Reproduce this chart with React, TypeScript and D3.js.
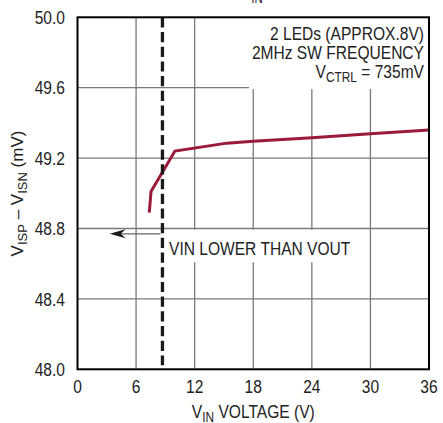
import { useEffect, useRef } from 'react'
import * as d3 from 'd3'

const W = 443
const H = 423
const FONT = '"Liberation Sans", Arial, sans-serif'
const NARROW = 0.82 // the reference uses a condensed face; squeeze Arial to match

// curve
const VIN = [7.35, 7.53, 9.98, 15.3, 18, 24, 30, 36]
const VSENSE = [48.89, 49.01, 49.24, 49.285, 49.296, 49.316, 49.338, 49.36]

const X_TICKS = [0, 6, 12, 18, 24, 30, 36]
const Y_TICKS = [48.0, 48.4, 48.8, 49.2, 49.6, 50.0]
const VIN_EQ_VOUT = 8.7
const ARROW_TO = 3.3
const ARROW_AT = 48.77
const NOTE_LINES = ['2 LEDs (APPROX.8V)', '2MHz SW FREQUENCY']

type G = d3.Selection<SVGGElement, unknown, null, undefined>
type S = d3.Selection<SVGSVGElement, unknown, null, undefined>

// text in a squeezed group so the glyphs look condensed
function label(parent: S | G, x: number, y: number, anchor: string, size: number, sx = NARROW, rot = 0) {
  return parent.append('g').attr('transform', `translate(${x},${y}) rotate(${rot}) scale(${sx},1)`)
    .append('text').attr('text-anchor', anchor).attr('font-family', FONT)
    .attr('font-size', size).attr('fill', '#222')
}

export default function App() {
  const ref = useRef<SVGSVGElement>(null)

  useEffect(() => {
    const svg = d3.select(ref.current!) as S
    svg.selectAll('*').remove()
    const x = d3.scaleLinear().domain([0, 36]).range([77.5, 429])
    const y = d3.scaleLinear().domain([48, 50]).range([369.3, 17.3])
    const [x0, x1] = x.range()
    const [y0, y1] = y.range()

    svg.append('rect').attr('width', W).attr('height', H).attr('fill', '#fff')

    // clipped fragment of the title above
    label(svg, 257, 2.5, 'middle', 14).text('IN')

    const grid = svg.append('g').attr('stroke', '#7a7a7a').attr('stroke-width', 1.3)
    grid.selectAll('line.v').data(X_TICKS.slice(1, -1)).join('line')
      .attr('x1', (d) => x(d)).attr('x2', (d) => x(d)).attr('y1', y1).attr('y2', y0)
    grid.selectAll('line.h').data(Y_TICKS.slice(1, -1)).join('line')
      .attr('x1', x0).attr('x2', x1).attr('y1', (d) => y(d)).attr('y2', (d) => y(d))

    // white boxes behind the notes
    svg.append('rect').attr('x', 249).attr('y', y1).attr('width', x1 - 249).attr('height', 89 - y1).attr('fill', '#fff')
    svg.append('rect').attr('x', 165).attr('y', 229.8).attr('width', 190).attr('height', 32.5).attr('fill', '#fff')

    // curve
    const line = d3.line<number>().x((_d, i) => x(VIN[i])).y((d) => y(d))
    svg.append('path').attr('d', line(VSENSE)).attr('fill', 'none')
      .attr('stroke', '#9b1a3b').attr('stroke-width', 3).attr('stroke-linejoin', 'miter')

    // VIN = VOUT marker
    svg.append('line').attr('x1', x(VIN_EQ_VOUT)).attr('x2', x(VIN_EQ_VOUT))
      .attr('y1', y1).attr('y2', y0 - 4).attr('stroke', '#1a1a1a').attr('stroke-width', 3.3)
      .attr('stroke-dasharray', '10.2 4.5')
    const ay = y(ARROW_AT)
    const ax = x(ARROW_TO)
    svg.append('line').attr('x1', x(VIN_EQ_VOUT) - 2).attr('x2', ax + 10).attr('y1', ay).attr('y2', ay)
      .attr('stroke', '#666').attr('stroke-width', 1.3)
    svg.append('path').attr('d', `M${ax},${ay} L${ax + 16},${ay - 4.5} L${ax + 11},${ay} L${ax + 16},${ay + 4.5} Z`)
      .attr('fill', '#1a1a1a')
    label(svg, 169, 254.5, 'start', 19).text('VIN LOWER THAN VOUT')

    // frame
    svg.append('rect').attr('x', x0).attr('y', y1).attr('width', x1 - x0).attr('height', y0 - y1)
      .attr('fill', 'none').attr('stroke', '#000').attr('stroke-width', 2)

    // ticks
    X_TICKS.forEach((d) => label(svg, x(d), 393, 'middle', 19).text(d))
    Y_TICKS.forEach((d) => label(svg, 65, y(d) + 6.7, 'end', 19).text(d.toFixed(1)))

    // axis titles
    const xt = label(svg, (x0 + x1) / 2, 417.5, 'middle', 19)
    xt.append('tspan').text('V')
    xt.append('tspan').attr('font-size', 14.5).attr('dy', 4).text('IN')
    xt.append('tspan').attr('dy', -4).text(' VOLTAGE (V)')

    const yt = label(svg, 23, 193.5, 'middle', 17, 1, -90)
    yt.append('tspan').text('V')
    yt.append('tspan').attr('font-size', 13).attr('dy', 4).text('ISP')
    yt.append('tspan').attr('dy', -4).text(' – V')
    yt.append('tspan').attr('font-size', 13).attr('dy', 4).text('ISN')
    yt.append('tspan').attr('dy', -4).text(' (mV)')

    // note
    const nx = 424
    NOTE_LINES.forEach((d, i) => label(svg, nx, 40 + i * 19.2, 'end', 19).text(d))
    const nt = label(svg, nx, 77.7, 'end', 19)
    nt.append('tspan').text('V')
    nt.append('tspan').attr('font-size', 14.5).attr('dy', 4).text('CTRL')
    nt.append('tspan').attr('dy', -4).text(' = 735mV')
  }, [])

  return (
    <div style={{ position: 'fixed', left: 0, top: 0, width: W, height: H }}>
      <svg ref={ref} width={W} height={H} style={{ display: 'block' }} />
    </div>
  )
}
